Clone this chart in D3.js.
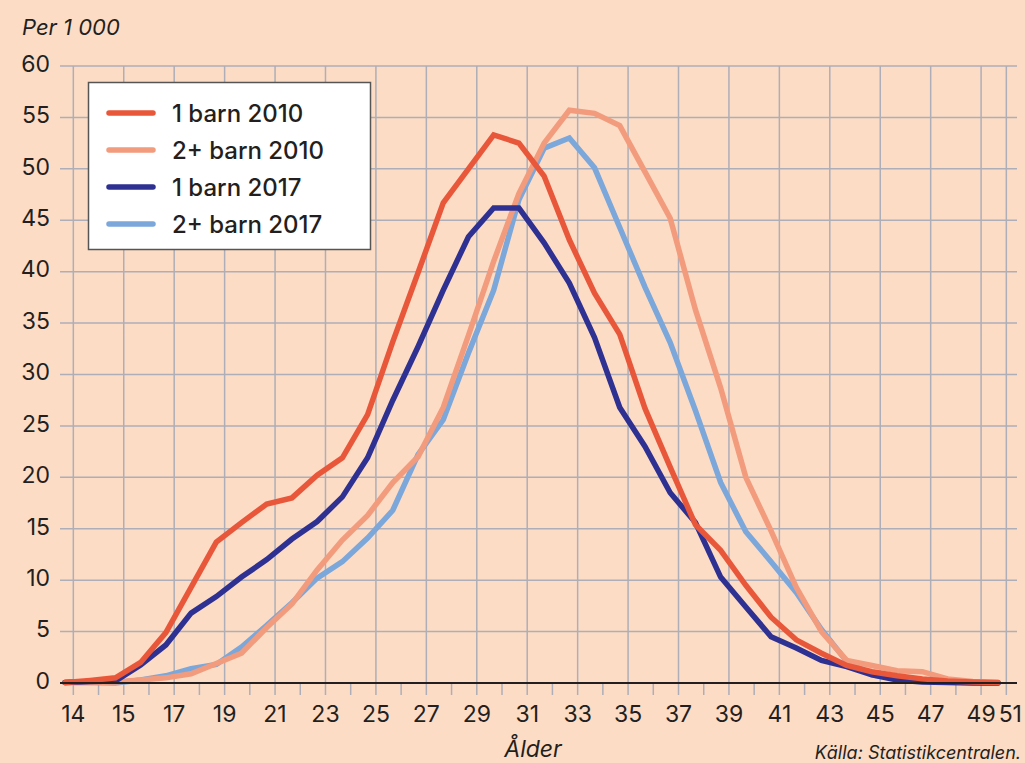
<!DOCTYPE html>
<html>
<head>
<meta charset="utf-8">
<script src="https://cdn.jsdelivr.net/npm/d3@7"></script>
<style>
  body { margin: 0; background: #fddcc5; }
  svg { display: block; font-family: Inter, "Noto Sans", sans-serif; }
</style>
</head>
<body>
<svg id="chart" width="1025" height="763"></svg>
<script>
/* ages on the x axis, one value per year */
const ages = [14, 15, 16, 17, 18, 19, 20, 21, 22, 23, 24, 25, 26, 27, 28, 29, 30, 31, 32,
  33, 34, 35, 36, 37, 38, 39, 40, 41, 42, 43, 44, 45, 46, 47, 48, 49, 50, 51];

/* births per 1 000 women */
const oneChild2010 = [0.05, 0.25, 0.5, 2.0, 4.9, 9.3, 13.7, 15.6, 17.4, 18.0, 20.2, 21.9, 26.1,
  33.2, 39.9, 46.7, 50.0, 53.3, 52.5, 49.3, 43.1, 37.9, 33.9, 26.7, 21.0, 15.4, 12.9, 9.5,
  6.4, 4.2, 2.9, 1.7, 1.1, 0.7, 0.4, 0.2, 0.1, 0.05];
const twoPlus2010 = [0.05, 0.05, 0.1, 0.3, 0.5, 0.9, 1.9, 2.9, 5.4, 7.7, 11.0, 13.9, 16.3,
  19.5, 22.0, 26.8, 33.8, 41.0, 47.6, 52.5, 55.7, 55.4, 54.2, 49.7, 45.2, 36.3, 28.7, 20.0,
  14.8, 9.3, 5.0, 2.2, 1.7, 1.2, 1.1, 0.4, 0.15, 0.05];
const oneChild2017 = [0.05, 0.15, 0.2, 1.75, 3.7, 6.8, 8.4, 10.3, 12.0, 14.0, 15.7, 18.1, 21.9,
  27.5, 32.7, 38.2, 43.4, 46.2, 46.2, 42.8, 38.9, 33.6, 26.8, 23.0, 18.5, 15.6, 10.3, 7.4,
  4.5, 3.4, 2.2, 1.6, 0.8, 0.3, 0.1, 0.05, 0, 0];
const twoPlus2017 = [0.05, 0.05, 0, 0.3, 0.7, 1.4, 1.8, 3.5, 5.6, 7.8, 10.2, 11.8, 14.1,
  16.8, 22.2, 25.6, 32.1, 38.2, 47.0, 52.0, 53.0, 50.1, 44.3, 38.5, 33.1, 26.5, 19.5, 14.7,
  11.8, 8.8, 5.2, 2.1, 0.8, 0.4, 0.2, 0.1, 0.05, 0];

const seriesNames = ["1 barn 2010", "2+ barn 2010", "1 barn 2017", "2+ barn 2017"];
const seriesValues = [oneChild2010, twoPlus2010, oneChild2017, twoPlus2017];
const seriesColors = ["#e9573a", "#f29b7d", "#2e3192", "#7ba7db"];

const yTicks = [0, 5, 10, 15, 20, 25, 30, 35, 40, 45, 50, 55, 60];
const xTickLabels = ["14", "15", "17", "19", "21", "23", "25", "27", "29", "31", "33", "35",
  "37", "39", "41", "43", "45", "47", "49", "51"];

const svg = d3.select("#chart");
const left = 60, right = 1017;

const x = d3.scaleLinear().domain([14, 51]).range([65, 998]);
const y = d3.scaleLinear().domain([0, 60]).range([683, 66]);

// the grid in the original sits a third of a year off the data points
const gridAges = xTickLabels.map((_, i) => i < xTickLabels.length - 1 ? 14.33 + 2 * i : 51.33);
const minorAges = d3.range(18).map(i => 15.33 + 2 * i);

const gridColor = "#adaeb8";

// horizontal grid
svg.append("g")
  .selectAll("line")
  .data(yTicks.filter(d => d > 0))
  .join("line")
  .attr("x1", left).attr("x2", right)
  .attr("y1", d => y(d)).attr("y2", d => y(d))
  .attr("stroke", gridColor).attr("stroke-width", 1.5);

// vertical grid, running down past the axis as ticks
svg.append("g")
  .selectAll("line")
  .data(gridAges)
  .join("line")
  .attr("x1", d => x(d)).attr("x2", d => x(d))
  .attr("y1", y(60)).attr("y2", y(0) + 12)
  .attr("stroke", gridColor).attr("stroke-width", 1.5);

svg.append("g")
  .selectAll("line")
  .data(minorAges)
  .join("line")
  .attr("x1", d => x(d)).attr("x2", d => x(d))
  .attr("y1", y(0)).attr("y2", y(0) + 12)
  .attr("stroke", gridColor).attr("stroke-width", 1.5);

// y labels
svg.append("g")
  .selectAll("text")
  .data(yTicks)
  .join("text")
  .attr("x", 50)
  .attr("y", d => y(d))
  .attr("dy", "0.25em")
  .attr("text-anchor", "end")
  .attr("font-size", 23)
  .attr("fill", "#231f20")
  .text(d => d);

// x labels
svg.append("g")
  .selectAll("text")
  .data(gridAges)
  .join("text")
  .attr("x", (d, i) => x(d) + (i === gridAges.length - 1 ? 4 : 0))
  .attr("y", 722)
  .attr("text-anchor", "middle")
  .attr("font-size", 23)
  .attr("fill", "#231f20")
  .text((d, i) => xTickLabels[i]);

// lines, lightest first so the 1-child series sit on top
const line = d3.line()
  .x((d, i) => x(ages[i]))
  .y(d => y(d));

[3, 1, 2, 0].forEach(k => {
  svg.append("path")
    .datum(seriesValues[k])
    .attr("d", line)
    .attr("fill", "none")
    .attr("stroke", seriesColors[k])
    .attr("stroke-width", 5.5)
    .attr("stroke-linejoin", "miter")
    .attr("stroke-linecap", "round");
});

// zero axis
svg.append("line")
  .attr("x1", left).attr("x2", right)
  .attr("y1", y(0)).attr("y2", y(0))
  .attr("stroke", "#231f20").attr("stroke-width", 2);

// legend
const legend = svg.append("g");
legend.append("rect")
  .attr("x", 88.5).attr("y", 82.5)
  .attr("width", 282).attr("height", 167)
  .attr("fill", "#fff")
  .attr("stroke", "#555").attr("stroke-width", 1.5);

const rows = legend.selectAll("g.row")
  .data(seriesNames)
  .join("g")
  .attr("transform", (d, i) => `translate(0,${113 + i * 37})`);

rows.append("line")
  .attr("x1", 109).attr("x2", 153)
  .attr("stroke", (d, i) => seriesColors[i])
  .attr("stroke-width", 5.5)
  .attr("stroke-linecap", "round");

rows.append("text")
  .attr("x", 172)
  .attr("dy", "0.36em")
  .attr("font-size", 24)
  .attr("font-weight", 500)
  .attr("fill", "#231f20")
  .text(d => d);

// titles
svg.append("text")
  .attr("x", 22).attr("y", 35)
  .attr("font-size", 22)
  .attr("font-style", "italic")
  .attr("fill", "#231f20")
  .text("Per 1 000");

svg.append("text")
  .attr("x", 533).attr("y", 757)
  .attr("text-anchor", "middle")
  .attr("font-size", 23)
  .attr("font-style", "italic")
  .attr("fill", "#231f20")
  .text("Ålder");

svg.append("text")
  .attr("x", 1021).attr("y", 759)
  .attr("text-anchor", "end")
  .attr("font-size", 18)
  .attr("font-style", "italic")
  .attr("fill", "#231f20")
  .text("Källa: Statistikcentralen.");
</script>
</body>
</html>
